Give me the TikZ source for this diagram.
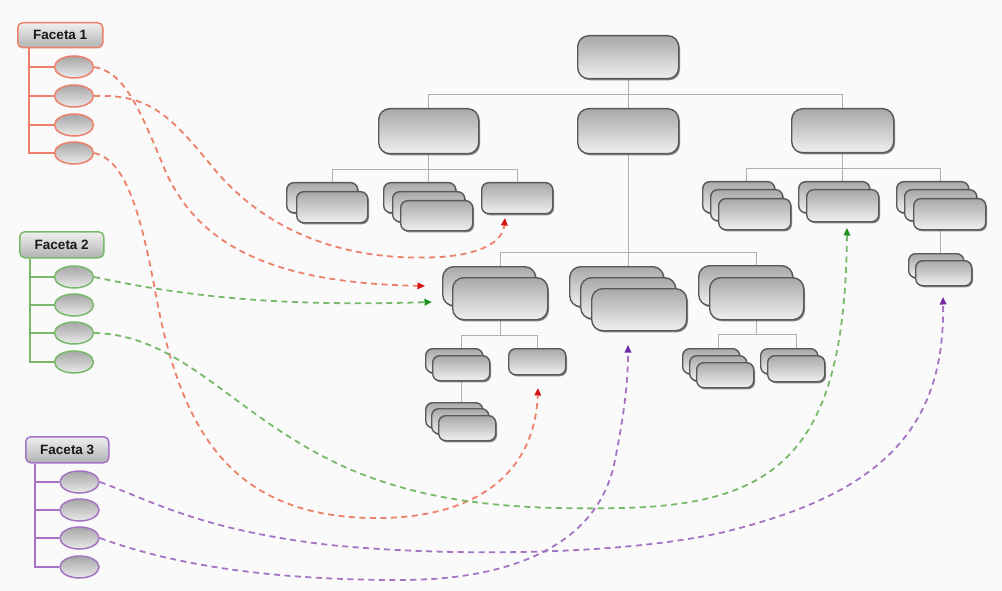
\documentclass[tikz,border=0pt]{standalone}
\usepackage{fontspec}
\setmainfont{Liberation Sans}
\usetikzlibrary{shapes.geometric,arrows.meta,calc,shadows}
\definecolor{bgc}{RGB}{250,250,250}
\definecolor{cred}{RGB}{236,128,104}
\definecolor{cgreen}{RGB}{120,185,105}
\definecolor{cpurple}{RGB}{165,115,195}
\definecolor{tred}{RGB}{215,20,20}
\definecolor{tgreen}{RGB}{30,145,30}
\definecolor{tpurple}{RGB}{110,40,165}
\definecolor{lgrey}{RGB}{175,175,175}
\pgfdeclarelayer{background}
\pgfsetlayers{background,main}
\newcommand{\orgb}[6][]{\node[obox,#1,minimum width=#5,minimum height=#6] (#2) at (#3,#4) {};}
\begin{document}
\begin{tikzpicture}[x=1pt,y=-1pt,
  obox/.style={draw=black!65, line width=1.4pt, rounded corners=7pt, top color=black!34, bottom color=black!6,
    inner sep=0pt, anchor=north west,
    drop shadow={shadow xshift=1.3pt, shadow yshift=-1.6pt, fill=black!60, opacity=0.8}},
  big/.style={rounded corners=11pt},
  tline/.style={draw=lgrey, line width=1.3pt},
  facet/.style={line width=1.5pt, rounded corners=5pt, top color=black!6, bottom color=black!30,
    inner sep=0pt, anchor=north west, font=\fontsize{13.5}{14}\selectfont\bfseries, text=black!90},
  oval/.style={ellipse, line width=1.5pt, minimum width=39pt, minimum height=22pt, inner sep=0pt,
    top color=black!35, bottom color=black!8},
  fl/.style={line width=1.5pt},
  conn/.style={line width=1.8pt, dash pattern=on 6pt off 4.5pt},
  tip/.style={-{Triangle[length=7.5pt,width=6.5pt,color=#1]}},
]
\useasboundingbox (0,0) rectangle (1002,591);
\begin{pgfonlayer}{background}
\fill[bgc] (0,0) rectangle (1002,591);
\end{pgfonlayer}

% ---------- org chart ----------
\orgb[big]{root}{577}{35}{101}{43}
\orgb[big]{a}{378}{108}{100}{45}
\orgb[big]{b}{577}{108}{101}{45}
\orgb[big]{c}{791}{108}{102}{44}
% children of a
\orgb{a1a}{286}{182}{71}{30}
\orgb{a1b}{296}{191}{71}{31}
\orgb{a2a}{383}{182}{72}{30}
\orgb{a2b}{392}{191}{72}{30}
\orgb{a2c}{400}{200}{72}{30}
\orgb{a3}{481}{182}{71}{31}
% children of c
\orgb{c1a}{702}{181}{72}{31}
\orgb{c1b}{710}{189}{72}{31}
\orgb{c1c}{718}{198}{72}{31}
\orgb{c2a}{798}{181}{71}{31}
\orgb{c2b}{806}{189}{72}{32}
\orgb{c3a}{896}{181}{72}{31}
\orgb{c3b}{904}{189}{72}{31}
\orgb{c3c}{913}{198}{72}{31}
\orgb{c4a}{908}{253}{55}{24}
\orgb{c4b}{915}{260}{56}{25}
% children of b
\orgb[big]{b1a}{442}{266}{93}{39}
\orgb[big]{b1b}{452}{277}{95}{42}
\orgb[big]{b2a}{569}{266}{94}{40}
\orgb[big]{b2b}{580}{277}{95}{41}
\orgb[big]{b2c}{591}{288}{95}{42}
\orgb[big]{b3a}{698}{265}{94}{40}
\orgb[big]{b3b}{709}{277}{94}{42}
% children of b1
\orgb{b11a}{425}{348}{57}{24}
\orgb{b11b}{432}{355}{57}{25}
\orgb{b12}{508}{348}{57}{26}
\orgb{b13a}{425}{402}{57}{25}
\orgb{b13b}{431}{408}{57}{25}
\orgb{b13c}{438}{415}{57}{25}
% children of b3
\orgb{b31a}{682}{348}{57}{25}
\orgb{b31b}{689}{355}{57}{25}
\orgb{b31c}{696}{362}{57}{25}
\orgb{b32a}{760}{348}{57}{25}
\orgb{b32b}{767}{355}{57}{26}

\begin{pgfonlayer}{background}
\draw[tline] (a.north) |- ($(root.south)+(0,15)$) -| (c.north);
\draw[tline] (root.south) -- (b.north);
\draw[tline] (a1b.north) |- ($(a.south)+(0,15)$) -| (a3.north);
\draw[tline] (a.south) -- (a2b.north);
\draw[tline] (c1b.north) |- ($(c.south)+(0,15)$) -| (c3b.north);
\draw[tline] (c.south) -- (c2b.north);
\draw[tline] (c3c.south -| c3b) -- (c4a.north -| c3b);
\draw[tline] (b1b.north) |- ($(b.south)+(0,98)$) -| (b3b.north);
\draw[tline] (b.south) -- (b2b.north);
\draw[tline] (b11b.north) |- ($(b1b.south)+(0,15)$) -| (b12.north);
\draw[tline] (b1b.south) -- ($(b1b.south)+(0,15)$);
\draw[tline] (b11b.south) -- (b11b.south |- b13a.north);
\draw[tline] (b31b.north) |- ($(b3b.south)+(0,14)$) -| (b32b.north);
\draw[tline] (b3b.south) -- ($(b3b.south)+(0,14)$);
\end{pgfonlayer}

% ---------- facets ----------
\node[facet, draw=cred, minimum width=85pt, minimum height=25pt] (f1) at (17,22) {Faceta 1};
\node[facet, draw=cgreen, minimum width=84pt, minimum height=26pt] (f2) at (19,231) {Faceta 2};
\node[facet, draw=cpurple, minimum width=83pt, minimum height=26pt] (f3) at (25,436) {Faceta 3};

\foreach \i/\y in {1/67,2/96,3/125,4/153}{
  \node[oval, draw=cred] (e1\i) at (74,\y) {};
}
\foreach \i/\y in {1/277,2/305,3/333,4/362}{
  \node[oval, draw=cgreen] (e2\i) at (74,\y) {};
}
\foreach \i/\y in {1/482,2/510,3/538,4/567}{
  \node[oval, draw=cpurple] (e3\i) at (79.5,\y) {};
}
\begin{pgfonlayer}{background}
\foreach \i in {1,2,3,4}{
  \draw[fl, cred] ($(f1.south west)+(12,0)$) |- (e1\i.west);
  \draw[fl, cgreen] ($(f2.south west)+(11,0)$) |- (e2\i.west);
  \draw[fl, cpurple] ($(f3.south west)+(10,0)$) |- (e3\i.west);
}
\end{pgfonlayer}

% ---------- arrow targets ----------
\coordinate (tA) at (425,286);
\coordinate (tB) at (505,218);
\coordinate (tC) at (538,388);
\coordinate (tD) at (432,302);
\coordinate (tE) at (847,228);
\coordinate (tF) at (943,297);
\coordinate (tG) at (628,345);

% ---------- dashed connectors ----------
\draw[conn, cred, tip=tred]
  (e11.east) .. controls (125,72) and (140,110) .. (165,170)
  .. controls (200,250) and (280,283) .. (tA);
\draw[conn, cred, tip=tred]
  (e12.east) .. controls (150,94) and (170,115) .. (215,170)
  .. controls (270,235) and (350,262) .. (440,257)
  .. controls (485,254) and (503,240) .. (tB);
\draw[conn, cred, tip=tred]
  (e14.east) .. controls (125,160) and (140,210) .. (155,290)
  .. controls (180,430) and (230,515) .. (370,518)
  .. controls (480,520) and (535,470) .. (tC);
\draw[conn, cgreen, tip=tgreen]
  (e21.east) .. controls (200,300) and (300,306) .. (tD);
\draw[conn, cgreen, tip=tgreen]
  (e23.east) .. controls (180,335) and (230,410) .. (330,460)
  .. controls (420,505) and (520,510) .. (620,508)
  .. controls (780,505) and (845,450) .. (tE);
\draw[conn, cpurple, tip=tpurple]
  (e31.east) .. controls (150,500) and (200,530) .. (330,545)
  .. controls (450,557) and (620,555) .. (720,533)
  .. controls (880,495) and (945,430) .. (tF);
\draw[conn, cpurple, tip=tpurple]
  (e33.east) .. controls (160,560) and (250,580) .. (400,580)
  .. controls (520,580) and (600,540) .. (615,460)
  .. controls (625,410) and (628,380) .. (tG);
\end{tikzpicture}
\end{document}
